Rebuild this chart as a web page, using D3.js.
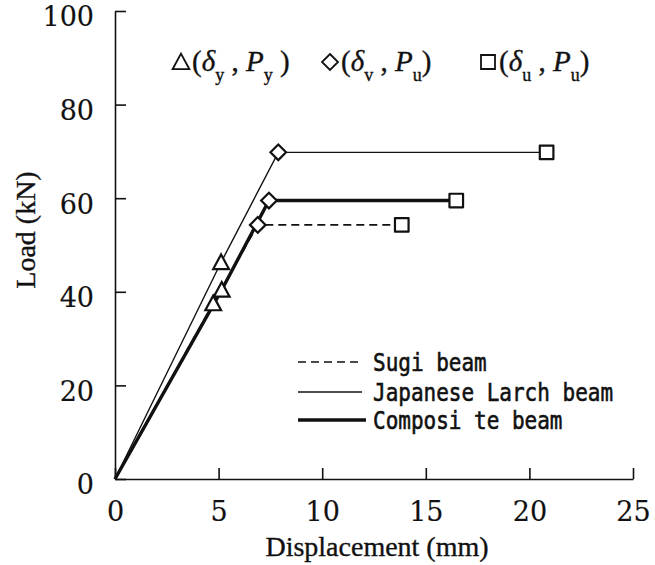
<!DOCTYPE html>
<html lang="en">
<head>
<meta charset="UTF-8">
<title>Load - Displacement</title>
<script src="https://cdn.jsdelivr.net/npm/d3@7"></script>
<style>
    body{ margin:0; background:#fff; }
    text{ font-family:"Liberation Serif","Times New Roman",serif; fill:#111; stroke:#111; stroke-width:0.35px; }
    .axis path,.axis line{ stroke:#111; stroke-width:1.6; }
    .legendText{ font-family:"DejaVu Sans Mono",monospace; font-size:21px; stroke-width:0.5px; }
</style>
</head>
<body>
<script>
    // ---------- data ----------
    const beams     = ["Sugi beam", "Japanese Larch beam", "Composite beam"];
    const yieldDisp = [4.74, 5.12, 5.15];     // delta_y (mm)
    const yieldLoad = [37.5, 46.3, 40.4];     // P_y (kN)
    const maxDisp   = [6.89, 7.88, 7.43];     // delta_v (mm)
    const maxLoad   = [54.3, 69.8, 59.5];     // P_u (kN)
    const ultDisp   = [13.84, 20.83, 16.47];  // delta_u (mm)
    const xTicks = [0, 5, 10, 15, 20, 25];
    const yTicks = [0, 20, 40, 60, 80, 100];

    // ---------- layout ----------
    const width = 655, height = 565;
    const plotL = 115, plotR = 633, plotT = 11, plotB = 479;
    const lineStyle = [
        {w:1.7, dash:"8,5"},
        {w:1.4, dash:null},
        {w:3.4, dash:null}
    ];

    const svg = d3.select("body").append("svg")
        .attr("width", width).attr("height", height);

    const x = d3.scaleLinear().domain([0, 25]).range([plotL, plotR]);
    const y = d3.scaleLinear().domain([0, 100]).range([plotB, plotT]);

    // axes, ticks pointing inward
    const xAxis = svg.append("g").attr("class","axis")
        .attr("transform",`translate(0,${plotB})`)
        .call(d3.axisBottom(x).tickValues(xTicks).tickSizeInner(-11).tickSizeOuter(0).tickPadding(23));
    const yAxis = svg.append("g").attr("class","axis")
        .attr("transform",`translate(${plotL},0)`)
        .call(d3.axisLeft(y).tickValues(yTicks).tickSizeInner(-11).tickSizeOuter(0).tickPadding(21));
    yAxis.selectAll(".tick text").attr("dy","0.55em");
    svg.selectAll(".axis").attr("font-family",null).attr("font-size",null);
    svg.selectAll(".axis .tick text")
        .style("font-family",'"DejaVu Serif",serif')
        .style("font-size","27px")
        .style("stroke-width","0.15px");
    svg.selectAll(".axis .domain").attr("stroke-width",1.8);

    svg.append("text").attr("x",(plotL+plotR)/2+3).attr("y",556)
        .attr("text-anchor","middle").attr("font-size",28)
        .text("Displacement (mm)");
    svg.append("text")
        .attr("transform","translate(35,230) rotate(-90)")
        .attr("text-anchor","middle").attr("font-size",28)
        .text("Load (kN)");

    // ---------- curves ----------
    const series = beams.map((b,i)=>({
        name:b,
        pts:[[0,0],[yieldDisp[i],yieldLoad[i]],[maxDisp[i],maxLoad[i]],[ultDisp[i],maxLoad[i]]]
    }));
    const line = d3.line().x(d=>x(d[0])).y(d=>y(d[1]));

    svg.append("g").selectAll("path")
        .data(series).join("path")
        .attr("d",d=>line(d.pts))
        .attr("fill","none").attr("stroke","#111")
        .attr("stroke-width",(d,i)=>lineStyle[i].w)
        .attr("stroke-dasharray",(d,i)=>lineStyle[i].dash);

    // marker shapes
    const tri = r=>`M0,${-r*1.05}L${r*1.05},${r*0.9}L${-r*1.05},${r*0.9}Z`;
    const dia = r=>`M0,${-r}L${r},0L0,${r}L${-r},0Z`;
    const sq  = r=>`M${-r},${-r}h${2*r}v${2*r}h${-2*r}Z`;

    const markers = svg.append("g").attr("fill","#fff").attr("stroke","#111").attr("stroke-width",2.2);
    markers.selectAll(".tri").data(beams).join("path")
        .attr("transform",(d,i)=>`translate(${x(yieldDisp[i])},${y(yieldLoad[i])})`)
        .attr("d",tri(7.5));
    markers.selectAll(".dia").data(beams).join("path")
        .attr("transform",(d,i)=>`translate(${x(maxDisp[i])},${y(maxLoad[i])})`)
        .attr("d",dia(7.8));
    markers.selectAll(".sq").data(beams).join("path")
        .attr("transform",(d,i)=>`translate(${x(ultDisp[i])},${y(maxLoad[i])})`)
        .attr("d",sq(6.8)).attr("stroke-linejoin","round");

    // ---------- symbol legend (top) ----------
    const symLegend = [
        {shape:tri, sub1:"y", sub2:"y", pad:true},
        {shape:dia, sub1:"v", sub2:"u", pad:false},
        {shape:sq,  sub1:"u", sub2:"u", pad:false}
    ];
    const symX = [181, 330, 488];
    symLegend.forEach((s,i)=>{
        svg.append("path")
            .attr("transform",`translate(${symX[i]},62)`)
            .attr("d",s.shape(s.shape===sq?7:8))
            .attr("fill","#fff").attr("stroke","#111").attr("stroke-width",1.8);
        const t = svg.append("text").attr("x",symX[i]+11).attr("y",71).attr("font-size",29);
        t.append("tspan").text("(");
        t.append("tspan").attr("font-style","italic").text("δ");
        t.append("tspan").attr("font-size",18).attr("dy",10).text(s.sub1);
        t.append("tspan").attr("dy",-10).text(" , ");
        t.append("tspan").attr("font-style","italic").text("P");
        t.append("tspan").attr("font-size",18).attr("dy",10).text(s.sub2);
        t.append("tspan").attr("dy",-10).text(s.pad ? " )" : ")");
    });

    // ---------- line legend ----------
    const legY = [362, 392, 420];
    const legEnd = [362, 362, 366];
    const leg = svg.append("g");
    beams.forEach((b,i)=>{
        const label = b.replace("Composite","Composi te");
        leg.append("line")
            .attr("x1",298).attr("x2",legEnd[i]).attr("y1",legY[i]).attr("y2",legY[i])
            .attr("stroke","#111").attr("stroke-width",lineStyle[i].w)
            .attr("stroke-dasharray",lineStyle[i].dash);
        leg.append("text").attr("class","legendText")
            .attr("transform",`translate(373,${legY[i]+9}) scale(1,1.22)`)
            .text(label);
    });
</script>
</body>
</html>
